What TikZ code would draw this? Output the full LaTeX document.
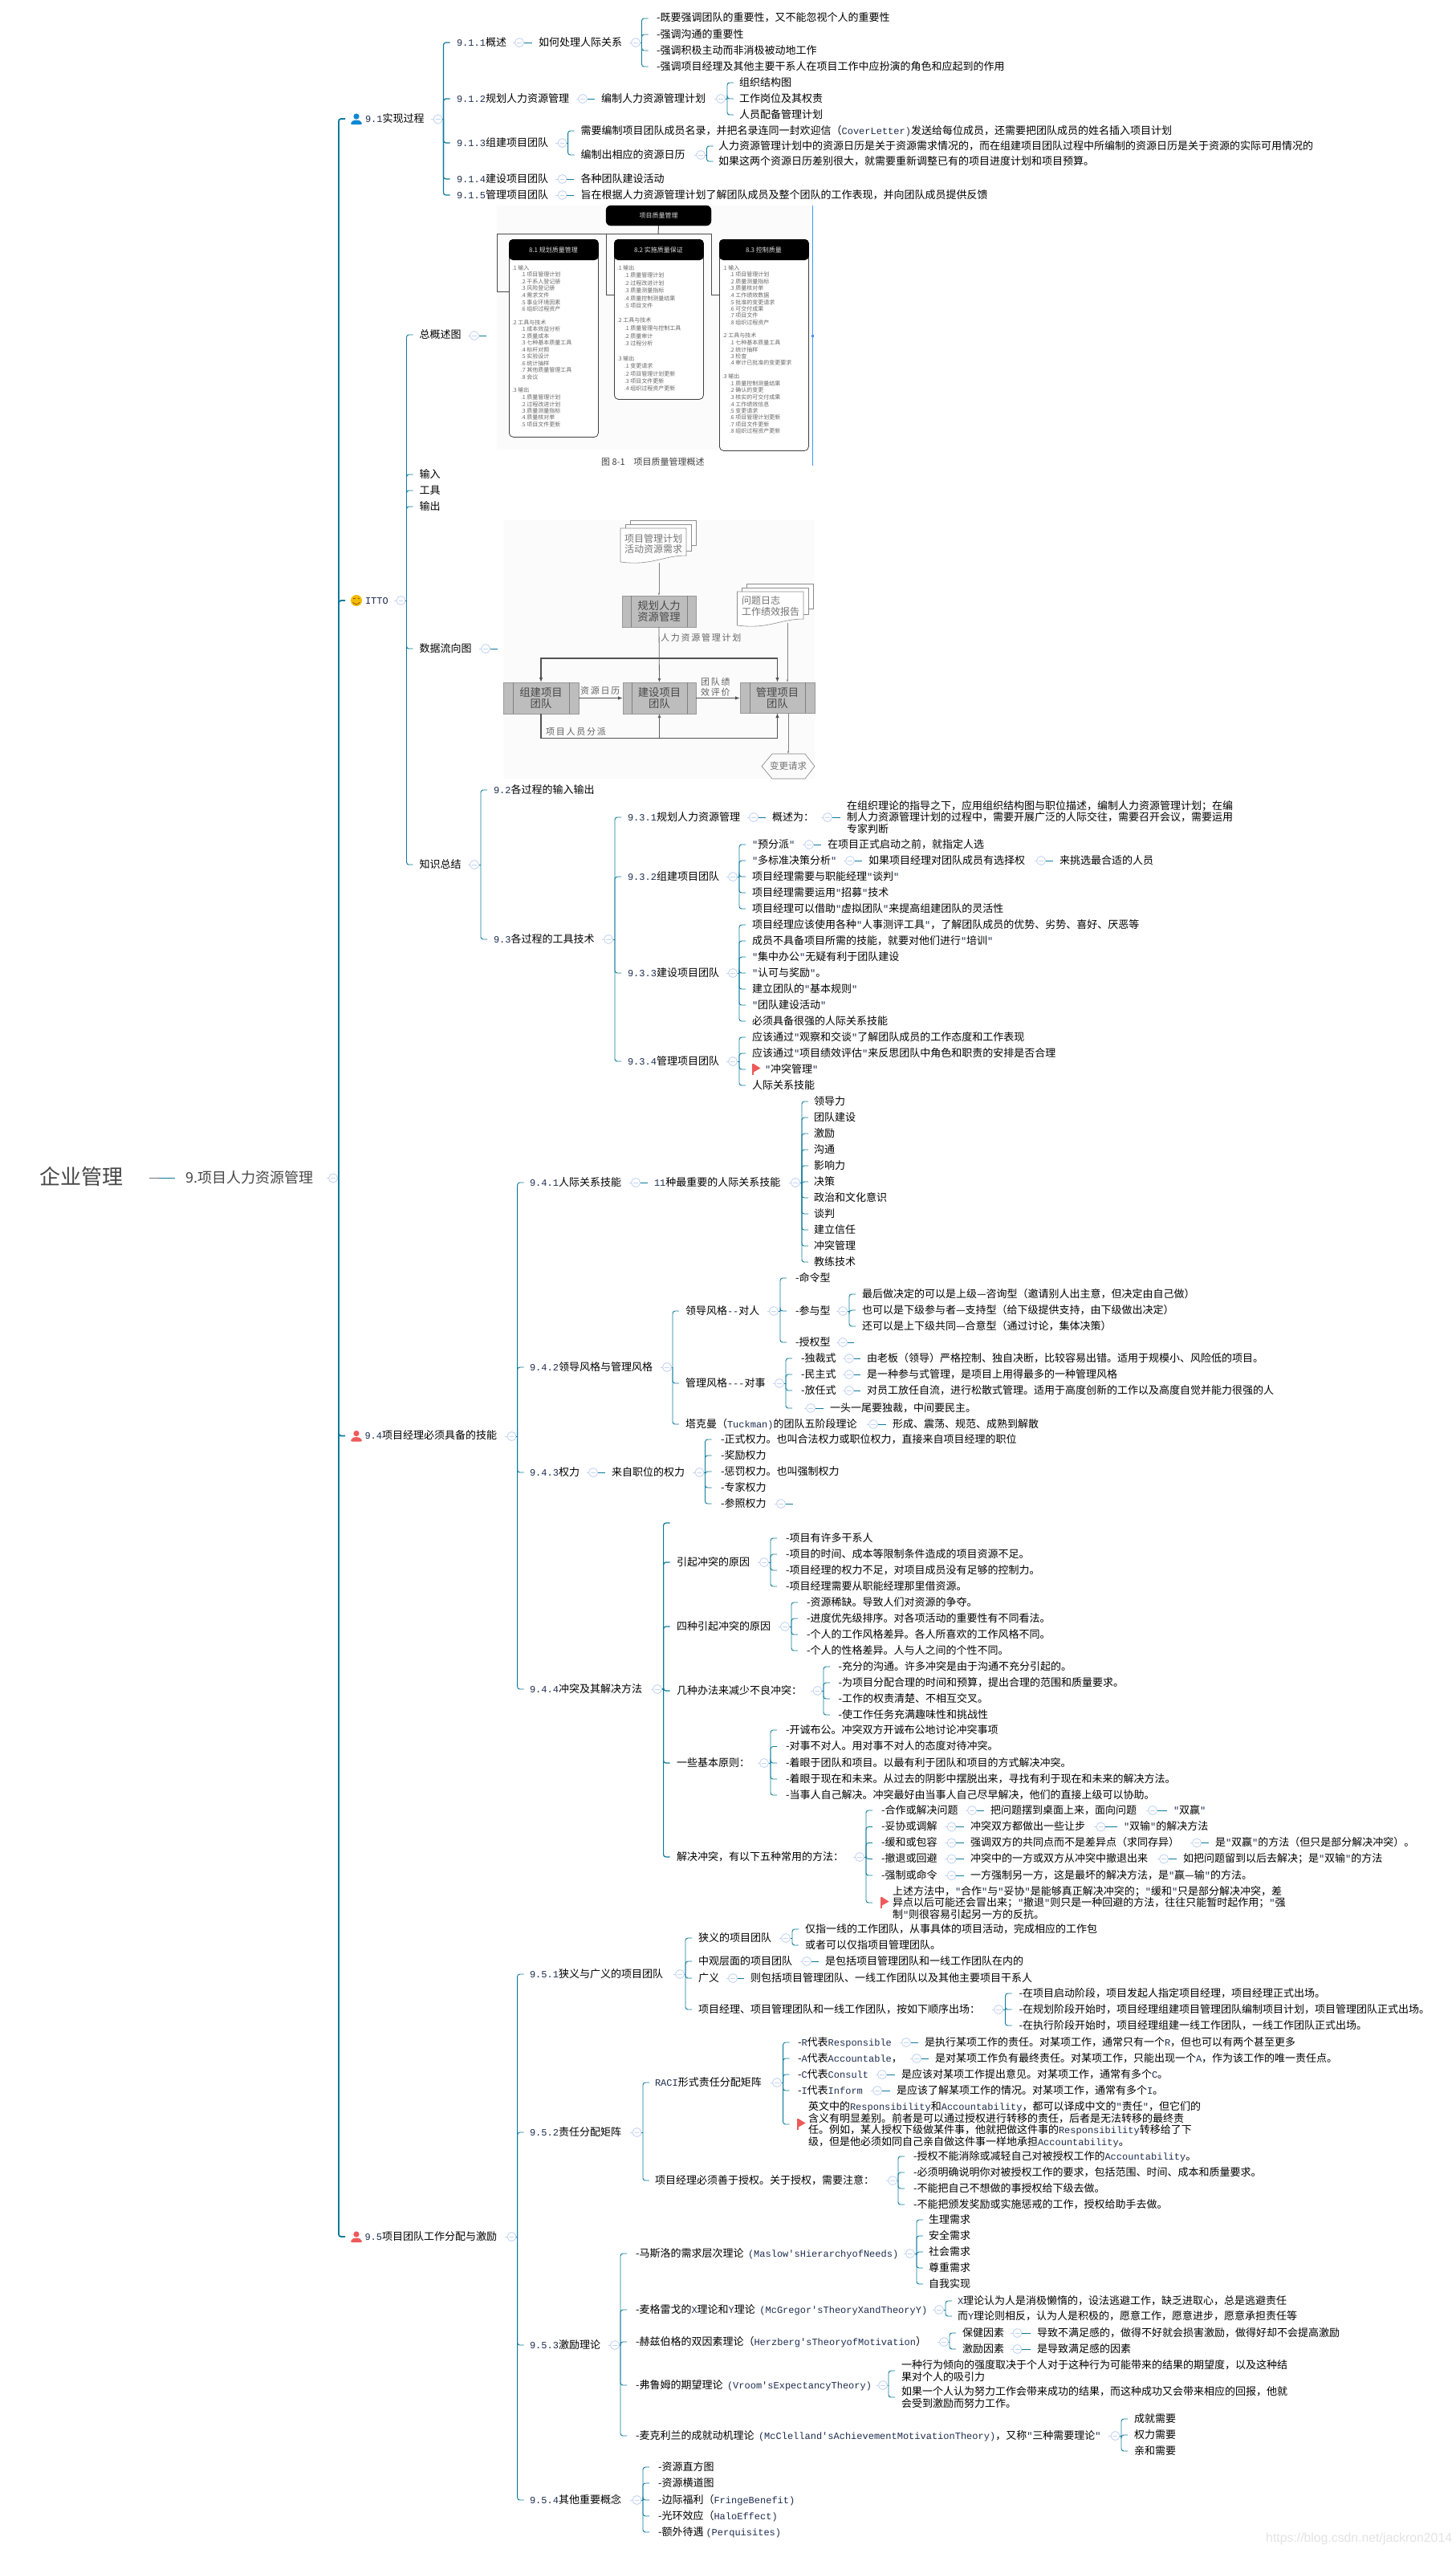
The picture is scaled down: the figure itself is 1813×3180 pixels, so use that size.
\documentclass[tikz,border=0pt]{standalone}
\usepackage{fontspec}
\setmainfont{Noto Sans CJK SC}
\newfontfamily\mono{Liberation Mono}
\newfontfamily\wmfont{Liberation Sans}
\newfontfamily\lsfont[LetterSpace=16]{Noto Sans CJK SC}
\usetikzlibrary{calc,arrows.meta}
\definecolor{tl}{HTML}{0B7A9A}
\definecolor{dotc}{HTML}{C4D4F2}
\definecolor{latc}{HTML}{1E2D4E}
\definecolor{flagc}{HTML}{EE5A5A}
\definecolor{imgbg}{HTML}{FBFBFB}
\definecolor{imgt}{HTML}{666666}
\newcommand{\m}[1]{{\mono\fontsize{12}{14.5}\selectfont\color{latc}#1}}
\newcommand{\qq}{\m{"}}
\newcommand{\lp}{\hspace{5.5pt}\m{(}}
\tikzset{
 txt/.style={anchor=west,inner sep=0pt,outer sep=0pt,font=\fontsize{13}{14.5}\selectfont,text height=10.5pt,text depth=2.5pt},
 mtxt/.style={anchor=west,inner sep=0pt,outer sep=0pt,align=left,font=\fontsize{13}{14.5}\selectfont},
 conn/.style={draw=tl,line width=.9pt},
 mainconn/.style={draw=tl,line width=1.8pt},
 midconn/.style={draw=tl,line width=1.2pt},
 dotn/.style={circle,draw=dotc,fill=white,inner sep=0pt,outer sep=0pt,minimum size=11pt,line width=.9pt},
 imt/.style={anchor=west,inner sep=0pt,outer sep=0pt,text=imgt,font=\fontsize{7}{8}\selectfont},
 imh/.style={inner sep=0pt,outer sep=0pt,text=white!85!black,font=\fontsize{8}{9}\selectfont},
 imbox/.style={draw=black!75,fill=white,rounded corners=5pt,line width=.8pt,anchor=north west,inner sep=0pt,minimum width=111pt},
 iml/.style={draw=black!70,line width=1pt},
 proc/.style={draw=black!40,fill=black!26,inner sep=0pt,outer sep=0pt,align=center,text=black!72,font=\fontsize{13.3}{14}\selectfont},
 plab/.style={inner sep=0pt,outer sep=0pt,align=left,text=black!62,anchor=west,font=\lsfont\fontsize{11}{13}\selectfont},
 doct/.style={inner sep=0pt,outer sep=0pt,align=left,text=black!55,font=\fontsize{12}{13.5}\selectfont},
 thinarr/.style={draw=black!48,line width=.5pt,-{Latex[length=3.5pt,width=2.5pt]}},
 fatarr/.style={draw=black!68,line width=1.2pt,-{Latex[length=6pt,width=4.5pt]}},
 fatline/.style={draw=black!68,line width=1.2pt},
}
\newcommand{\K}[4]{\node[txt] (#1) at (#2,#3) {#4};}
\newcommand{\M}[4]{\node[mtxt] (#1) at (#2,#3) {#4};}
\newcommand{\D}[3]{\node[dotn] (#1) at (#2,#3) {};
  \draw[dotc,line width=.8pt] (#2-2.8,#3) -- (#2+2.8,#3);
  \draw[dotc,line width=.8pt] ($(#1.west)+(-3,0)$) -- (#1.west);}
\newcommand{\Fan}[4][conn]{%
  \coordinate (T#2) at (#3,0);
  \draw[#1] (#2.east) -- (#2.east -| T#2);
  \foreach \chd in {#4}{\draw[#1,rounded corners=3pt] (#2.east -| T#2) |- ($(\chd.west -| T#2)+(8,0)$);}%
}
\newcommand{\Lk}[2]{\draw[conn] (#1.east) -- ($(#2.west)+(-8.5,0)$);}
\newcommand{\Stub}[2]{\coordinate (#1e) at ($(#1.east)+(#2,0)$); \draw[conn] (#1.east) -- (#1e);}
\newcommand{\Flag}[2]{\fill[flagc] (#1,#2-7) rectangle (#1+1.8,#2+7);
  \fill[flagc] (#1+1.8,#2-7) -- (#1+10.5,#2-1.5) -- (#1+1.8,#2+3.5) -- cycle;}
\newcommand{\Person}[3]{\fill[#3] (#1,#2-3) circle (3.6);
  \fill[#3,rounded corners=2pt] (#1-7.5,#2+7) -- (#1-6,#2+3.2) -- (#1-2.5,#2+1.5) -- (#1+2.5,#2+1.5) -- (#1+6,#2+3.2) -- (#1+7.5,#2+7) -- cycle;}
\newcommand{\Bars}[2]{\draw[black!50,line width=.6pt] ([xshift=#2pt]#1.north west) -- ([xshift=#2pt]#1.south west);
  \draw[black!50,line width=.6pt] ([xshift=-#2pt]#1.north east) -- ([xshift=-#2pt]#1.south east);}
\newcommand{\Doc}[4]{%
  \draw[black!45,fill=white,line width=.6pt] (#1+12,#2-9.5) rectangle (#3+12,#4-24);
  \draw[black!45,fill=white,line width=.6pt] (#1+6,#2-4.8) rectangle (#3+6,#4-17);
  \draw[black!45,fill=white,line width=.6pt] (#1,#2) -- (#3,#2) -- (#3,#4-11) .. controls (#3-30,#4-11) and (#1+40,#4+2) .. (#1,#4-3) -- cycle;}
\begin{document}
\begin{tikzpicture}[x=1pt,y=-1pt]
\useasboundingbox (0,0) rectangle (1813,3180);
\fill[white] (0,0) rectangle (1813,3180);

% ---------- root ----------
\node[anchor=west,inner sep=0pt,text=black!72,font=\fontsize{26}{28}\selectfont] (root) at (49,1465) {企业管理};
\node[anchor=west,inner sep=0pt,text=black!72,font=\fontsize{18}{20}\selectfont] (pm) at (231.5,1467) {9.项目人力资源管理};
\coordinate (r1) at (186,1467.5); \coordinate (r2) at (198,1467.5); \coordinate (r3) at (218,1467.5);
\draw[conn] (r2) -- (r3);
\draw[black!55,line width=.9pt] (r1) -- (r2);
\D{dm}{415}{1467.5}

% ---------- level 1 ----------
\K{n91}{455}{148}{\m{9.1}实现过程}
\Person{444}{148}{cyan!70!blue}
\D{d91}{545.7}{148.5}
\K{nitto}{455}{748}{\m{ITTO}}
\fill[orange!45!yellow!95!black] (444,748) circle (7);
\draw[orange!60!black,line width=.7pt] (440,745.5) -- (442.5,745.5) (445.5,745.5) -- (448,745.5);
\draw[orange!60!black,line width=.7pt] (439.5,750) .. controls (442,753.5) and (446,753.5) .. (448.5,750);
\D{ditto}{499.4}{748}
\K{n94}{454.5}{1788.5}{\m{9.4}项目经理必须具备的技能}
\Person{444}{1788.5}{flagc}
\D{d94}{637.5}{1789}
\K{n95}{454.5}{2786}{\m{9.5}项目团队工作分配与激励}
\Person{444}{2786}{flagc}
\D{d95}{637.5}{2786}
\Fan[mainconn]{dm}{422}{n91,nitto,n94,n95}

% ---------- 9.1 ----------
\K{a1}{569}{53}{\m{9.1.1}概述}
\K{a2}{569}{123}{\m{9.1.2}规划人力资源管理}
\K{a3}{569}{178}{\m{9.1.3}组建项目团队}
\K{a4}{569}{223}{\m{9.1.4}建设项目团队}
\K{a5}{569}{243}{\m{9.1.5}管理项目团队}
\Fan[midconn]{d91}{552.5}{a1,a2,a3,a4,a5}
\D{da1}{647}{53}
\K{a1b}{671}{53}{如何处理人际关系}
\Lk{da1}{a1b}
\D{da1b}{792}{53}
\K{a1c1}{818}{23}{-既要强调团队的重要性，又不能忽视个人的重要性}
\K{a1c2}{818}{43}{-强调沟通的重要性}
\K{a1c3}{818}{63}{-强调积极主动而非消极被动地工作}
\K{a1c4}{818}{83}{-强调项目经理及其他主要干系人在项目工作中应扮演的角色和应起到的作用}
\Fan{da1b}{799.5}{a1c1,a1c2,a1c3,a1c4}
\D{da2}{726}{123}
\K{a2b}{749}{123}{编制人力资源管理计划}
\Lk{da2}{a2b}
\D{da2b}{898}{123}
\K{a2c1}{921}{103}{组织结构图}
\K{a2c2}{921}{123}{工作岗位及其权责}
\K{a2c3}{921}{143}{人员配备管理计划}
\Fan{da2b}{906}{a2c1,a2c2,a2c3}
\D{da3}{700.6}{178}
\K{a3c1}{723.6}{163}{需要编制项目团队成员名录，并把名录连同一封欢迎信（\m{CoverLetter)}发送给每位成员，还需要把团队成员的姓名插入项目计划}
\K{a3c2}{723.6}{193}{编制出相应的资源日历}
\Fan{da3}{707.6}{a3c1,a3c2}
\D{da3b}{873}{193}
\K{a3d1}{895}{182}{人力资源管理计划中的资源日历是关于资源需求情况的，而在组建项目团队过程中所编制的资源日历是关于资源的实际可用情况的}
\K{a3d2}{895}{201}{如果这两个资源日历差别很大，就需要重新调整已有的项目进度计划和项目预算。}
\Fan{da3b}{880.5}{a3d1,a3d2}
\D{da4}{700.6}{223}
\K{a4b}{723.6}{223}{各种团队建设活动}
\Lk{da4}{a4b}
\D{da5}{700.6}{243}
\K{a5b}{723.6}{243}{旨在根据人力资源管理计划了解团队成员及整个团队的工作表现，并向团队成员提供反馈}
\Lk{da5}{a5b}

% ---------- ITTO ----------
\K{i1}{522.7}{417}{总概述图}
\K{i2}{522.7}{591}{输入}
\K{i3}{522.7}{611}{工具}
\K{i4}{522.7}{631}{输出}
\K{i5}{522.7}{808}{数据流向图}
\K{i6}{522.7}{1077}{知识总结}
\Fan{ditto}{506.5}{i1,i2,i3,i4,i5,i6}
\D{di1}{591}{418}
\Stub{di1}{9.5}
\D{di5}{605}{808}
\Stub{di5}{9.5}
\D{di6}{591}{1077}
\K{k92}{615}{984}{\m{9.2}各过程的输入输出}
\K{k93}{615}{1170}{\m{9.3}各过程的工具技术}
\Fan{di6}{599}{k92,k93}
\D{dk93}{758}{1170}
\K{p1}{782}{1018}{\m{9.3.1}规划人力资源管理}
\K{p2}{782}{1092}{\m{9.3.2}组建项目团队}
\K{p3}{782}{1212}{\m{9.3.3}建设项目团队}
\K{p4}{782}{1322}{\m{9.3.4}管理项目团队}
\Fan{dk93}{766}{p1,p2,p3,p4}
\D{dp1}{939}{1018}
\K{p1b}{962}{1018}{概述为：}
\Lk{dp1}{p1b}
\D{dp1b}{1031}{1018}
\M{p1c}{1055}{1018}{在组织理论的指导之下，应用组织结构图与职位描述，编制人力资源管理计划；在编\\制人力资源管理计划的过程中，需要开展广泛的人际交往，需要召开会议，需要运用\\专家判断}
\Lk{dp1b}{p1c}
\D{dp2}{913}{1092}
\K{p2a}{937}{1052}{\qq 预分派\qq}
\K{p2b}{937}{1072}{\qq 多标准决策分析\qq}
\K{p2c}{937}{1092}{项目经理需要与职能经理\qq 谈判\qq}
\K{p2d}{937}{1112}{项目经理需要运用\qq 招募\qq 技术}
\K{p2e}{937}{1132}{项目经理可以借助\qq 虚拟团队\qq 来提高组建团队的灵活性}
\Fan{dp2}{921}{p2a,p2b,p2c,p2d,p2e}
\D{dp2a}{1008}{1052}
\K{p2a2}{1031}{1052}{在项目正式启动之前，就指定人选}
\Lk{dp2a}{p2a2}
\D{dp2b}{1059}{1072}
\K{p2b2}{1082}{1072}{如果项目经理对团队成员有选择权}
\Lk{dp2b}{p2b2}
\D{dp2c}{1297}{1072}
\K{p2b3}{1320}{1072}{来挑选最合适的人员}
\Lk{dp2c}{p2b3}
\D{dp3}{913}{1212}
\K{p3a}{937}{1152}{项目经理应该使用各种\qq 人事测评工具\qq ，了解团队成员的优势、劣势、喜好、厌恶等}
\K{p3b}{937}{1172}{成员不具备项目所需的技能，就要对他们进行\qq 培训\qq}
\K{p3c}{937}{1192}{\qq 集中办公\qq 无疑有利于团队建设}
\K{p3d}{937}{1212}{\qq 认可与奖励\qq 。}
\K{p3e}{937}{1232}{建立团队的\qq 基本规则\qq}
\K{p3f}{937}{1252}{\qq 团队建设活动\qq}
\K{p3g}{937}{1272}{必须具备很强的人际关系技能}
\Fan{dp3}{921}{p3a,p3b,p3c,p3d,p3e,p3f,p3g}
\D{dp4}{913}{1322}
\K{p4a}{937}{1292}{应该通过\qq 观察和交谈\qq 了解团队成员的工作态度和工作表现}
\K{p4b}{937}{1312}{应该通过\qq 项目绩效评估\qq 来反思团队中角色和职责的安排是否合理}
\K{p4c}{953}{1332}{\qq 冲突管理\qq}
\K{p4d}{937}{1352}{人际关系技能}
\Flag{937}{1332}
\draw[conn,rounded corners=3pt] (921,1322) |- (929,1332);
\Fan{dp4}{921}{p4a,p4b,p4d}

% ---------- 9.4 ----------
\K{b1}{660}{1473}{\m{9.4.1}人际关系技能}
\K{b2}{660}{1703}{\m{9.4.2}领导风格与管理风格}
\K{b3}{660}{1834}{\m{9.4.3}权力}
\K{b4}{660}{2104}{\m{9.4.4}冲突及其解决方法}
\Fan{d94}{644.6}{b1,b2,b3,b4}
\D{db1}{792}{1473}
\K{b1b}{815}{1473}{\m{11}种最重要的人际关系技能}
\Lk{db1}{b1b}
\D{db1b}{991}{1473}
\K{s1}{1014}{1372}{领导力}
\K{s2}{1014}{1392}{团队建设}
\K{s3}{1014}{1412}{激励}
\K{s4}{1014}{1432}{沟通}
\K{s5}{1014}{1452}{影响力}
\K{s6}{1014}{1472}{决策}
\K{s7}{1014}{1492}{政治和文化意识}
\K{s8}{1014}{1512}{谈判}
\K{s9}{1014}{1532}{建立信任}
\K{s10}{1014}{1552}{冲突管理}
\K{s11}{1014}{1572}{教练技术}
\Fan{db1b}{999}{s1,s2,s3,s4,s5,s6,s7,s8,s9,s10,s11}
\D{db2}{831}{1703}
\K{l1}{854}{1633}{领导风格\m{-{}-}对人}
\K{l2}{854}{1723}{管理风格\m{-{}-{}-}对事}
\K{l3}{854}{1774}{塔克曼（\m{Tuckman)}的团队五阶段理论}
\Fan{db2}{838}{l1,l2,l3}
\D{dl1}{964}{1633}
\K{l1a}{991}{1592}{-命令型}
\K{l1b}{991}{1633}{-参与型}
\K{l1c}{991}{1672}{-授权型}
\Fan{dl1}{972}{l1a,l1b,l1c}
\D{dl1b}{1050}{1633}
\K{l1b1}{1074}{1612}{最后做决定的可以是上级—咨询型（邀请别人出主意，但决定由自己做）}
\K{l1b2}{1074}{1632}{也可以是下级参与者—支持型（给下级提供支持，由下级做出决定）}
\K{l1b3}{1074}{1652}{还可以是上下级共同—合意型（通过讨论，集体决策）}
\Fan{dl1b}{1058}{l1b1,l1b2,l1b3}
\D{dl1c}{1050}{1672}
\Stub{dl1c}{8.5}
\D{dl2}{971}{1723}
\K{l2a}{998}{1692}{-独裁式}
\K{l2b}{998}{1712}{-民主式}
\K{l2c}{998}{1732}{-放任式}
\node[txt] (l2d) at (994,1754) {};
\Fan{dl2}{979}{l2a,l2b,l2c,l2d}
\D{dl2a}{1058}{1692}
\K{l2a2}{1080}{1692}{由老板（领导）严格控制、独自决断，比较容易出错。适用于规模小、风险低的项目。}
\Lk{dl2a}{l2a2}
\D{dl2b}{1058}{1712}
\K{l2b2}{1080}{1712}{是一种参与式管理，是项目上用得最多的一种管理风格}
\Lk{dl2b}{l2b2}
\D{dl2c}{1058}{1732}
\K{l2c2}{1080}{1732}{对员工放任自流，进行松散式管理。适用于高度创新的工作以及高度自觉并能力很强的人}
\Lk{dl2c}{l2c2}
\D{dl2d}{1010}{1754}
\K{l2d2}{1034}{1754}{一头一尾要独裁，中间要民主。}
\Lk{dl2d}{l2d2}
\D{dl3}{1088}{1774}
\K{l32}{1112}{1774}{形成、震荡、规范、成熟到解散}
\Lk{dl3}{l32}
\D{db3}{739}{1834}
\K{b3b}{762}{1834}{来自职位的权力}
\Lk{db3}{b3b}
\D{db3b}{871.5}{1834}
\K{w1}{898}{1793}{-正式权力。也叫合法权力或职位权力，直接来自项目经理的职位}
\K{w2}{898}{1813}{-奖励权力}
\K{w3}{898}{1833}{-惩罚权力。也叫强制权力}
\K{w4}{898}{1853}{-专家权力}
\K{w5}{898}{1873}{-参照权力}
\Fan{db3b}{878.5}{w1,w2,w3,w4,w5}
\D{dw5}{973}{1873}
\Stub{dw5}{9.5}
\D{db4}{819}{2104}
\node[txt] (c0) at (843,1897) {};
\K{c1}{843}{1946}{引起冲突的原因}
\K{c2}{843}{2026}{四种引起冲突的原因}
\K{c3}{843}{2106}{几种办法来减少不良冲突：}
\K{c4}{843}{2196}{一些基本原则：}
\K{c5}{843}{2313}{解决冲突，有以下五种常用的方法：}
\Fan[midconn]{db4}{826.6}{c0,c1,c2,c3,c4,c5}
\D{dc1}{952}{1946}
\K{c1a}{979}{1916}{-项目有许多干系人}
\K{c1b}{979}{1936}{-项目的时间、成本等限制条件造成的项目资源不足。}
\K{c1c}{979}{1956}{-项目经理的权力不足，对项目成员没有足够的控制力。}
\K{c1d}{979}{1976}{-项目经理需要从职能经理那里借资源。}
\Fan{dc1}{960}{c1a,c1b,c1c,c1d}
\D{dc2}{978}{2026}
\K{c2a}{1005}{1996}{-资源稀缺。导致人们对资源的争夺。}
\K{c2b}{1005}{2016}{-进度优先级排序。对各项活动的重要性有不同看法。}
\K{c2c}{1005}{2036}{-个人的工作风格差异。各人所喜欢的工作风格不同。}
\K{c2d}{1005}{2056}{-个人的性格差异。人与人之间的个性不同。}
\Fan{dc2}{986}{c2a,c2b,c2c,c2d}
\D{dc3}{1018.5}{2106}
\K{c3a}{1044.5}{2076}{-充分的沟通。许多冲突是由于沟通不充分引起的。}
\K{c3b}{1044.5}{2096}{-为项目分配合理的时间和预算，提出合理的范围和质量要求。}
\K{c3c}{1044.5}{2116}{-工作的权责清楚、不相互交叉。}
\K{c3d}{1044.5}{2136}{-使工作任务充满趣味性和挑战性}
\Fan{dc3}{1026}{c3a,c3b,c3c,c3d}
\D{dc4}{952}{2196}
\K{c4a}{979}{2155}{-开诚布公。冲突双方开诚布公地讨论冲突事项}
\K{c4b}{979}{2175.5}{-对事不对人。用对事不对人的态度对待冲突。}
\K{c4c}{979}{2196}{-着眼于团队和项目。以最有利于团队和项目的方式解决冲突。}
\K{c4d}{979}{2216}{-着眼于现在和未来。从过去的阴影中摆脱出来，寻找有利于现在和未来的解决方法。}
\K{c4e}{979}{2236}{-当事人自己解决。冲突最好由当事人自己尽早解决，他们的直接上级可以协助。}
\Fan{dc4}{960}{c4a,c4b,c4c,c4d,c4e}
\D{dc5}{1071}{2313}
\K{e1}{1098}{2255}{-合作或解决问题}
\K{e2}{1098}{2275.5}{-妥协或调解}
\K{e3}{1098}{2295.5}{-缓和或包容}
\K{e4}{1098}{2315.5}{-撤退或回避}
\K{e5}{1098}{2336}{-强制或命令}
\M{e6}{1112}{2370}{上述方法中，\qq 合作\qq 与\qq 妥协\qq 是能够真正解决冲突的；\qq 缓和\qq 只是部分解决冲突，差\\异点以后可能还会冒出来；\qq 撤退\qq 则只是一种回避的方法，往往只能暂时起作用；\qq 强\\制\qq 则很容易引起另一方的反抗。}
\Flag{1097}{2370}
\Fan{dc5}{1079}{e1,e2,e3,e4,e5,e6}
\D{de1}{1211}{2255}
\K{e1b}{1234}{2255}{把问题摆到桌面上来，面向问题}
\Lk{de1}{e1b}
\D{de1c}{1436}{2255}
\K{e1d}{1462}{2255}{\qq 双赢\qq}
\Lk{de1c}{e1d}
\D{de2}{1185.5}{2275.5}
\K{e2b}{1209}{2275.5}{冲突双方都做出一些让步}
\Lk{de2}{e2b}
\D{de2c}{1371.4}{2275.5}
\K{e2d}{1400}{2275.5}{\qq 双输\qq 的解决方法}
\Lk{de2c}{e2d}
\D{de3}{1185.5}{2295.5}
\K{e3b}{1209}{2295.5}{强调双方的共同点而不是差异点（求同存异）}
\Lk{de3}{e3b}
\D{de3c}{1491}{2295.5}
\K{e3d}{1514}{2295.5}{是\qq 双赢\qq 的方法（但只是部分解决冲突）。}
\Lk{de3c}{e3d}
\D{de4}{1185.5}{2315.5}
\K{e4b}{1209}{2315.5}{冲突中的一方或双方从冲突中撤退出来}
\Lk{de4}{e4b}
\D{de4c}{1450}{2315.5}
\K{e4d}{1474}{2315.5}{如把问题留到以后去解决；是\qq 双输\qq 的方法}
\Lk{de4c}{e4d}
\D{de5}{1185.5}{2336}
\K{e5b}{1209}{2336}{一方强制另一方，这是最坏的解决方法，是\qq 赢—输\qq 的方法。}
\Lk{de5}{e5b}

% ---------- 9.5 ----------
\K{f1}{660}{2459}{\m{9.5.1}狭义与广义的项目团队}
\K{f2}{660}{2656}{\m{9.5.2}责任分配矩阵}
\K{f3}{660}{2921}{\m{9.5.3}激励理论}
\K{f4}{660}{3114}{\m{9.5.4}其他重要概念}
\Fan{d95}{644.6}{f1,f2,f3,f4}
\D{df1}{847}{2459}
\K{g1}{870}{2414}{狭义的项目团队}
\K{g2}{870}{2443}{中观层面的项目团队}
\K{g3}{870}{2464}{广义}
\K{g4}{870}{2503}{项目经理、项目管理团队和一线工作团队，按如下顺序出场：}
\Fan{df1}{854}{g1,g2,g3,g4}
\D{dg1}{979}{2414}
\K{g1a}{1003}{2403}{仅指一线的工作团队，从事具体的项目活动，完成相应的工作包}
\K{g1b}{1003}{2423}{或者可以仅指项目管理团队。}
\Fan{dg1}{987}{g1a,g1b}
\D{dg2}{1005}{2443}
\K{g2b}{1028}{2443}{是包括项目管理团队和一线工作团队在内的}
\Lk{dg2}{g2b}
\D{dg3}{913}{2464}
\K{g3b}{935}{2464}{则包括项目管理团队、一线工作团队以及其他主要项目干系人}
\Lk{dg3}{g3b}
\D{dg4}{1244}{2503}
\K{g4a}{1269.5}{2483}{-在项目启动阶段，项目发起人指定项目经理，项目经理正式出场。}
\K{g4b}{1269.5}{2503}{-在规划阶段开始时，项目经理组建项目管理团队编制项目计划，项目管理团队正式出场。}
\K{g4c}{1269.5}{2523}{-在执行阶段开始时，项目经理组建一线工作团队，一线工作团队正式出场。}
\Fan{dg4}{1252.5}{g4a,g4b,g4c}
\D{df2}{793.5}{2656}
\K{h1}{816}{2594}{\m{RACI}形式责任分配矩阵}
\K{h2}{816}{2716}{项目经理必须善于授权。关于授权，需要注意：}
\Fan{df2}{801}{h1,h2}
\D{dh1}{968}{2594}
\K{h1a}{994}{2544}{-\m{R}代表\m{Responsible}}
\K{h1b}{994}{2564}{-\m{A}代表\m{Accountable}，}
\K{h1c}{994}{2584}{-\m{C}代表\m{Consult}}
\K{h1d}{994}{2604}{-\m{I}代表\m{Inform}}
\M{h1e}{1007}{2646}{英文中的\m{Responsibility}和\m{Accountability}，都可以译成中文的\qq 责任\qq ，但它们的\\含义有明显差别。前者是可以通过授权进行转移的责任，后者是无法转移的最终责\\任。例如，某人授权下级做某件事，他就把做这件事的\m{Responsibility}转移给了下\\级，但是他必须如同自己亲自做这件事一样地承担\m{Accountability}。}
\Flag{993}{2646}
\Fan{dh1}{975.6}{h1a,h1b,h1c,h1d,h1e}
\D{dh1a}{1129}{2544}
\K{h1a2}{1152}{2544}{是执行某项工作的责任。对某项工作，通常只有一个\m{R}，但也可以有两个甚至更多}
\Lk{dh1a}{h1a2}
\D{dh1b}{1142}{2564}
\K{h1b2}{1165}{2564}{是对某项工作负有最终责任。对某项工作，只能出现一个\m{A}，作为该工作的唯一责任点。}
\Lk{dh1b}{h1b2}
\D{dh1c}{1099}{2584}
\K{h1c2}{1123}{2584}{是应该对某项工作提出意见。对某项工作，通常有多个\m{C}。}
\Lk{dh1c}{h1c2}
\D{dh1d}{1093}{2604}
\K{h1d2}{1117}{2604}{是应该了解某项工作的情况。对某项工作，通常有多个\m{I}。}
\Lk{dh1d}{h1d2}
\D{dh2}{1112}{2716}
\K{h2a}{1138}{2686}{-授权不能消除或减轻自己对被授权工作的\m{Accountability}。}
\K{h2b}{1138}{2706}{-必须明确说明你对被授权工作的要求，包括范围、时间、成本和质量要求。}
\K{h2c}{1138}{2726}{-不能把自己不想做的事授权给下级去做。}
\K{h2d}{1138}{2746}{-不能把颁发奖励或实施惩戒的工作，授权给助手去做。}
\Fan{dh2}{1119}{h2a,h2b,h2c,h2d}
\D{df3}{766}{2921}
\K{j1}{792}{2807}{-马斯洛的需求层次理论\lp\m{Maslow'sHierarchyofNeeds)}}
\K{j2}{792}{2877}{-麦格雷戈的\m{X}理论和\m{Y}理论\lp\m{McGregor'sTheoryXandTheoryY)}}
\K{j3}{792}{2917}{-赫兹伯格的双因素理论（\m{Herzberg'sTheoryofMotivation}）}
\K{j4}{792}{2971}{-弗鲁姆的期望理论\lp\m{Vroom'sExpectancyTheory)}}
\K{j5}{792}{3034}{-麦克利兰的成就动机理论\lp\m{McClelland'sAchievementMotivationTheory)}，又称\qq 三种需要理论\qq}
\Fan{df3}{773}{j1,j2,j3,j4,j5}
\D{dj1}{1134}{2807}
\K{j1a}{1157}{2765}{生理需求}
\K{j1b}{1157}{2785}{安全需求}
\K{j1c}{1157}{2805}{社会需求}
\K{j1d}{1157}{2825}{尊重需求}
\K{j1e}{1157}{2845}{自我实现}
\Fan{dj1}{1142}{j1a,j1b,j1c,j1d,j1e}
\D{dj2}{1170}{2877}
\K{j2a}{1193}{2866}{\m{X}理论认为人是消极懒惰的，设法逃避工作，缺乏进取心，总是逃避责任}
\K{j2b}{1193}{2885}{而\m{Y}理论则相反，认为人是积极的，愿意工作，愿意进步，愿意承担责任等}
\Fan{dj2}{1178}{j2a,j2b}
\D{dj3}{1176}{2917}
\K{j3a}{1199}{2906}{保健因素}
\K{j3b}{1199}{2926}{激励因素}
\Fan{dj3}{1183}{j3a,j3b}
\D{dj3a}{1267.5}{2906}
\K{j3a2}{1292}{2906}{导致不满足感的，做得不好就会损害激励，做得好却不会提高激励}
\Lk{dj3a}{j3a2}
\D{dj3b}{1267.5}{2926}
\K{j3b2}{1292}{2926}{是导致满足感的因素}
\Lk{dj3b}{j3b2}
\D{dj4}{1100}{2971}
\M{j4a}{1123}{2953}{一种行为倾向的强度取决于个人对于这种行为可能带来的结果的期望度，以及这种结\\果对个人的吸引力}
\M{j4b}{1123}{2986}{如果一个人认为努力工作会带来成功的结果，而这种成功又会带来相应的回报，他就\\会受到激励而努力工作。}
\Fan{dj4}{1107}{j4a,j4b}
\D{dj5}{1389.5}{3034}
\K{j5a}{1413}{3013}{成就需要}
\K{j5b}{1413}{3033}{权力需要}
\K{j5c}{1413}{3053}{亲和需要}
\Fan{dj5}{1397}{j5a,j5b,j5c}
\D{df4}{793.5}{3114}
\K{o1}{820}{3073}{-资源直方图}
\K{o2}{820}{3093}{-资源横道图}
\K{o3}{820}{3114}{-边际福利（\m{FringeBenefit)}}
\K{o4}{820}{3134}{-光环效应（\m{HaloEffect)}}
\K{o5}{820}{3154}{-额外待遇\hspace{3pt}\m{(Perquisites)}}
\Fan{df4}{801}{o1,o2,o3,o4,o5}
\node[anchor=west,inner sep=0pt,text=black!11,font=\wmfont\fontsize{15.8}{18}\selectfont] (wm) at (1577,3162) {https://blog.csdn.net/jackron2014};

% ---------- picture 1 ----------
\fill[imgbg] (619,256) rectangle (1012,560);
\node[draw=black,fill=black,rounded corners=6pt,inner sep=0pt,minimum width=131pt,minimum height=25pt,text=white!85!black,font=\fontsize{8}{9}\selectfont] (qt) at (820.5,268.5) {项目质量管理};
\node[imbox,minimum height=246pt] (qb1) at (634,298) {};
\node[imbox,minimum height=199pt] (qb2) at (765,298) {};
\node[imbox,minimum height=263pt] (qb3) at (896,298) {};
\foreach \qn in {qb1,qb2,qb3}{
  \fill[black,rounded corners=5pt] ($(\qn.north west)+(0,26)$) -- (\qn.north west) -- (\qn.north east) -- ($(\qn.north east)+(0,26)$) -- cycle;
}
\node[imh] (qh1) at (689.5,311.5) {8.1 规划质量管理};
\node[imh] (qh2) at (820.5,311.5) {8.2 实施质量保证};
\node[imh] (qh3) at (951.5,311.5) {8.3 控制质量};
\coordinate (qj) at (820,291);
\coordinate (q1) at (619.5,363); \coordinate (q2) at (755,367); \coordinate (q3) at (886,367);
\draw[iml] (qt.south) -- (qj);
\draw[iml] (qj) -| (q1) -- (q1 -| qb1.west);
\draw[iml] (qj) -| (q2) -- (q2 -| qb2.west);
\draw[iml] (qj) -| (q3) -- (q3 -| qb3.west);
\foreach \tx/\ty/\tz [count=\i] in {
638/333.5/.1 输入,649/342/.1 项目管理计划,649/350.5/.2 干系人登记册,649/359/.3 风险登记册,649/367.5/.4 需求文件,649/376.5/.5 事业环境因素,649/385/.6 组织过程资产,
638/401.7/.2 工具与技术,649/410/.1 成本效益分析,649/418.5/.2 质量成本,649/427/.3 七种基本质量工具,649/435.5/.4 标杆对照,649/444/.5 实验设计,649/452.5/.6 统计抽样,649/461/.7 其他质量管理工具,649/469.5/.8 会议,
638/486/.3 输出,649/495/.1 质量管理计划,649/503.5/.2 过程改进计划,649/511.5/.3 质量测量指标,649/520/.4 质量核对单,649/528.5/.5 项目文件更新,
769/333.5/.1 输出,778/343/.1 质量管理计划,778/352.5/.2 过程改进计划,778/362/.3 质量测量指标,778/371.5/.4 质量控制测量结果,778/381/.5 项目文件,
769/399/.2 工具与技术,778/409/.1 质量管理与控制工具,778/418.5/.2 质量审计,778/428/.3 过程分析,
769/446.7/.3 输出,778/456/.1 变更请求,778/465.5/.2 项目管理计划更新,778/475/.3 项目文件更新,778/484/.4 组织过程资产更新,
900/333.5/.1 输入,909/342/.1 项目管理计划,909/350.5/.2 质量测量指标,909/359/.3 质量核对单,909/367.5/.4 工作绩效数据,909/376.5/.5 批准的变更请求,909/385/.6 可交付成果,909/393/.7 项目文件,909/401.5/.8 组织过程资产,
900/418/.2 工具与技术,909/427/.1 七种基本质量工具,909/435.5/.2 统计抽样,909/444/.3 检查,909/452/.4 审计已批准的变更要求,
900/469/.3 输出,909/477.5/.1 质量控制测量结果,909/486/.2 确认的变更,909/495/.3 核实的可交付成果,909/503.5/.4 工作绩效信息,909/512/.5 变更请求,909/520/.6 项目管理计划更新,909/528.5/.7 项目文件更新,909/537/.8 组织过程资产更新}
{\node[imt] (ql\i) at (\tx,\ty) {\tz};}
\node[anchor=west,inner sep=0pt,text=black!75,font=\fontsize{11}{12}\selectfont] (qcap) at (749,575) {图 8-1\hspace{11pt}项目质量管理概述};
\coordinate (bl1) at (1012,256); \coordinate (bl2) at (1012,580);
\draw[blue!55!cyan!75!white,line width=.8pt] (bl1) -- (bl2);
\fill[blue!55!cyan!75!white] (1010.5,416.5) rectangle (1013.5,419.5);

% ---------- picture 2 ----------
\fill[imgbg] (627,648) rectangle (1015,970);
\Doc{773}{658}{855}{703}
\node[doct,minimum width=82pt,minimum height=30pt] (dc1t) at (814,677.5) {项目管理计划\\活动资源需求};
\coordinate (dc1b) at (821,701);
\Doc{918.5}{737}{1001}{782}
\node[doct,anchor=west] (dc2t) at (924,755) {问题日志\\工作绩效报告};
\coordinate (dc2b) at (981,776);
\node[proc,minimum width=92pt,minimum height=39pt] (pA) at (821,761.5) {规划人力\\资源管理};
\node[proc,minimum width=94pt,minimum height=39pt] (pC) at (674,869.5) {组建项目\\团队};
\node[proc,minimum width=91pt,minimum height=39pt] (pD) at (821.5,869.5) {建设项目\\团队};
\node[proc,minimum width=93pt,minimum height=38pt] (pE) at (968.5,869) {管理项目\\团队};
\Bars{pA}{11} \Bars{pC}{12} \Bars{pD}{11} \Bars{pE}{12}
\draw[thinarr] (dc1b) -- (dc1b |- pA.north);
\coordinate (jt) at (821,820);
\draw[fatarr] (jt) -| (pC.north);
\draw[fatarr] (jt) -| (pE.north);
\draw[draw=black!62,line width=.8pt,-{Latex[length=5pt,width=4pt]}] (pA.south) -- (pD.north);
\draw[fatarr] (pC.east) -- (pD.west);
\draw[fatarr] (pD.east) -- (pE.west |- pD.east);
\coordinate (jb) at (821.5,919.3);
\draw[fatline] (pC.south) |- (jb);
\draw[fatarr] (jb) -| (pE.south);
\draw[draw=black!62,line width=.8pt,-{Latex[length=5pt,width=4pt]}] (jb) -- (pD.south);
\draw[thinarr] (dc2b) -- (dc2b |- pE.north);
\node[doct,draw=none,minimum width=66pt,minimum height=31pt,align=center,font=\fontsize{11.5}{13}\selectfont] (hex) at (982,954.5) {变更请求};
\draw[black!50,line width=.6pt] (949,954.5) -- (962,939) -- (1003,939) -- (1015,954.5) -- (1003,970) -- (962,970) -- cycle;
\draw[thinarr] (hex.north |- pE.south) -- (hex.north);
\node[plab] (lb1) at (823,794) {人力资源管理计划};
\node[plab] (lb2) at (723,860) {资源日历};
\node[plab] (lb3) at (873,855.5) {团队绩\\效评价};
\node[plab] (lb4) at (680,911) {项目人员分派};
\end{tikzpicture}
\end{document}
